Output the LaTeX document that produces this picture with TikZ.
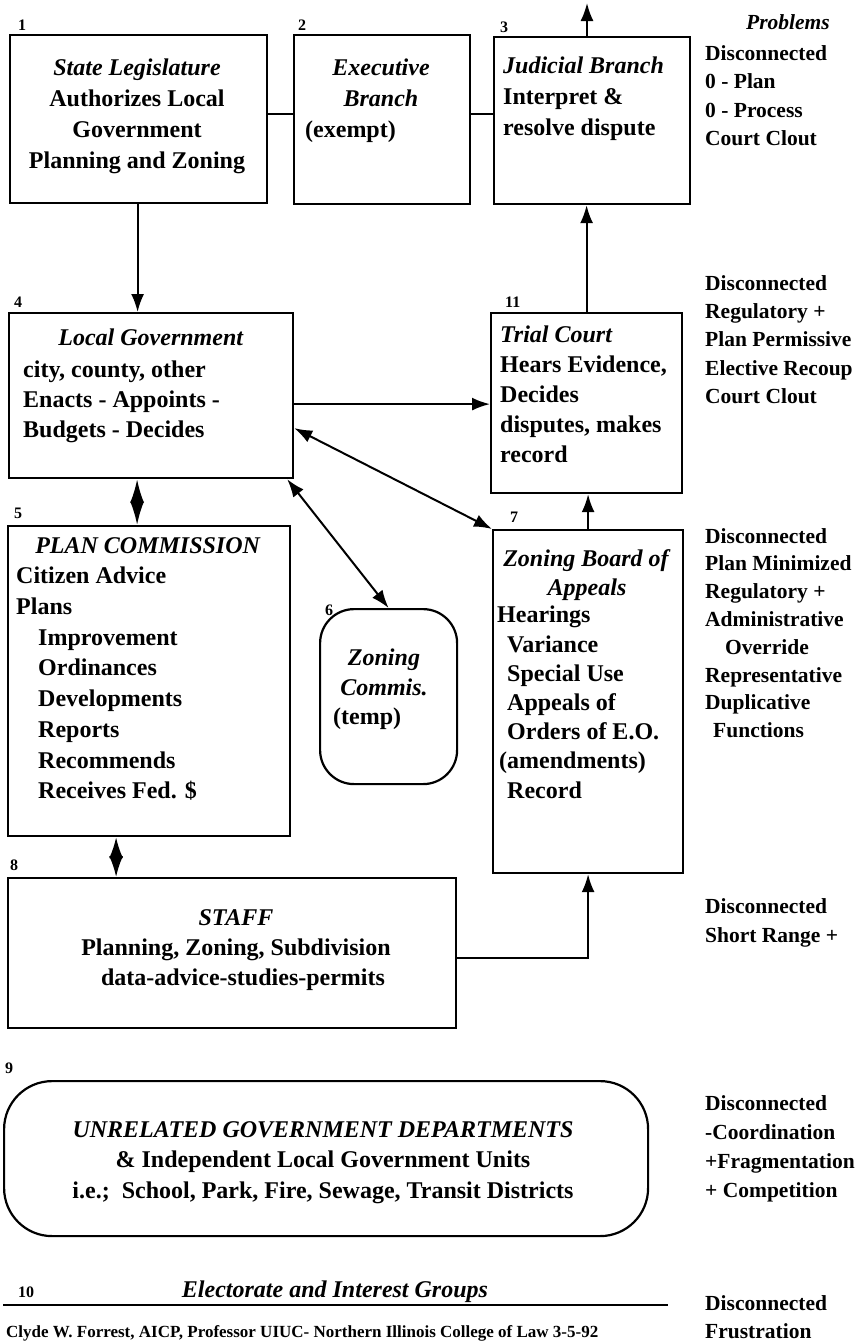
\documentclass[tikz,border=0pt]{standalone}
\usepackage{fontspec}
\setmainfont{Liberation Serif}
\usetikzlibrary{arrows.meta}
\begin{document}
\begin{tikzpicture}[x=1pt,y=-1pt,
  box/.style={draw, line width=2.2pt, inner sep=0, anchor=north west},
  txt/.style={inner sep=0, font=\fontsize{24}{#1}\selectfont\bfseries, align=left, anchor=north west},
  txt/.default=30.5,
  rtxt/.style={inner sep=0, font=\fontsize{21.5}{#1}\selectfont\bfseries, align=left, anchor=north west},
  rtxt/.default=28.3,
  lab/.style={inner sep=0, font=\fontsize{16}{18}\selectfont\bfseries, anchor=base west},
  conn/.style={line width=2pt},
  arr/.style={line width=2pt, -{Latex[length=18pt,width=13pt]}},
  dbl/.style={line width=2pt, {Latex[length=18pt,width=13pt]}-{Latex[length=18pt,width=13pt]}},
  dia/.style={line width=2pt, {Latex[length=#1,width=14pt]}-{Latex[length=#1,width=14pt]}}
]
\useasboundingbox (0,0) rectangle (856,1342);

% boxes
\node[box, minimum width=257pt, minimum height=168pt] (b1) at (9,34) {};
\node[box, minimum width=176pt, minimum height=169pt] (b2) at (293,34) {};
\node[box, minimum width=196pt, minimum height=167pt] (b3) at (493,36) {};
\node[box, minimum width=284pt, minimum height=165pt] (b4) at (8,312) {};
\node[box, minimum width=191pt, minimum height=180pt] (b11) at (490,312) {};
\node[box, minimum width=282pt, minimum height=310pt] (b5) at (7,525) {};
\node[box, rounded corners=34pt, minimum width=137pt, minimum height=175pt] (b6) at (319,608) {};
\node[box, minimum width=190pt, minimum height=343pt] (b7) at (492,529) {};
\node[box, minimum width=448pt, minimum height=150pt] (b8) at (7,877) {};
\node[box, rounded corners=48pt, minimum width=644pt, minimum height=155pt] (b9) at (3,1080) {};

% labels
\node[lab] (l1) at (18,30) {1};
\node[lab] (l2) at (298,30) {2};
\node[lab] (l3) at (500,32) {3};
\node[lab] (l4) at (14,307) {4};
\node[lab] (l5) at (14,518) {5};
\node[lab] (l6) at (325,615) {6};
\node[lab] (l7) at (510,522) {7};
\node[lab] (l8) at (10,870) {8};
\node[lab] (l9) at (5,1073) {9};
\node[lab] (l10) at (18,1297) {10};
\node[lab] (l11) at (505,307) {11};

% box texts
\node[txt=30.8, anchor=north, align=center] (t1) at (137,59) {\textit{State Legislature}\\Authorizes Local\\Government\\Planning and Zoning};
\node[txt=30.8, anchor=north, align=center] (t2a) at (381,59) {\textit{Executive}\\\textit{Branch}};
\node[txt] (t2b) at (305,121) {(exempt)};
\node[txt=31] (t3) at (503,57) {\textit{Judicial Branch}\\Interpret \&\\resolve dispute};
\node[txt, anchor=north] (t4a) at (151,329) {\textit{Local Government}};
\node[txt=30] (t4b) at (23,361) {city, county, other\\Enacts - Appoints -\\Budgets - Decides};
\node[txt=30] (t11) at (500,326) {\textit{Trial Court}\\Hears Evidence,\\Decides\\disputes, makes\\record};
\node[txt, anchor=north] (t5a) at (148,537) {\textit{PLAN COMMISSION}};
\node[txt=30.7] (t5b) at (16,567) {Citizen Advice\\Plans\\\hspace*{22pt}Improvement\\\hspace*{22pt}Ordinances\\\hspace*{22pt}Developments\\\hspace*{22pt}Reports\\\hspace*{22pt}Recommends\\\hspace*{22pt}Receives Fed. \$};
\node[txt=30, anchor=north, align=center] (t6a) at (384,649) {\textit{Zoning}\\\textit{Commis.}};
\node[txt] (t6b) at (333,708) {(temp)};
\node[txt=29, anchor=north, align=center] (t7a) at (587,549) {\textit{Zoning Board of}\\\textit{Appeals}};
\node[txt=29.2] (t7b) at (497,606) {Hearings\\\hspace*{10pt}Variance\\\hspace*{10pt}Special Use\\\hspace*{10pt}Appeals of\\\hspace*{10pt}Orders of E.O.\\\hspace*{2pt}(amendments)\\\hspace*{10pt}Record};
\node[txt=30, anchor=north, align=center] (t8) at (236,909) {\textit{STAFF}\\Planning, Zoning, Subdivision\\\hspace*{14pt}data-advice-studies-permits};
\node[txt=30.5, anchor=north, align=center] (t9) at (323,1121) {\textit{UNRELATED GOVERNMENT DEPARTMENTS}\\\& Independent Local Government Units\\i.e.;\ \ School, Park, Fire, Sewage, Transit Districts};
\node[txt, anchor=base] (t10) at (335,1297) {\textit{Electorate and Interest Groups}};
\coordinate (u1) at (3,1305);
\coordinate (u2) at (668,1305);
\draw[conn] (u1) -- (u2);

% right column
\node[rtxt, anchor=base east] (p0) at (830,29) {\textit{Problems}};
\node[rtxt=28.5] (p1) at (705,45) {Disconnected\\0 - Plan\\0 - Process\\Court Clout};
\node[rtxt=28.3] (p2) at (705,275) {Disconnected\\Regulatory +\\Plan Permissive\\Elective Recoup\\Court Clout};
\node[rtxt=27.8] (p3) at (705,528) {Disconnected\\Plan Minimized\\Regulatory +\\Administrative\\\hspace*{20pt}Override\\Representative\\Duplicative\\\hspace*{8pt}Functions};
\node[rtxt=29] (p4) at (705,898) {Disconnected\\Short Range +};
\node[rtxt=29] (p5) at (705,1095) {Disconnected\\-Coordination\\+Fragmentation\\+ Competition};
\node[rtxt=28] (p6) at (705,1295) {Disconnected\\Frustration};

% footer
\node[inner sep=0, anchor=base west, font=\fontsize{17}{19}\selectfont\bfseries] (ft) at (6,1337) {Clyde W. Forrest, AICP, Professor UIUC- Northern Illinois College of Law 3-5-92};

% connectors
\draw[conn] ([yshift=5pt]b1.east) -- ([yshift=5pt]b1.east -| b2.west);
\draw[conn] ([yshift=6pt]b2.east) -- ([yshift=6pt]b2.east -| b3.west);
\coordinate (top) at (587,3);
\draw[arr] (b3.north -| top) -- (top);
\draw[arr] ([xshift=-1pt]b1.south) -- ([xshift=-1pt]b1.south |- b4.north);
\draw[arr] (b11.north) -- (b11.north |- b3.south);
\draw[arr] ([yshift=-8.5pt]b4.east) -- ([yshift=-8.5pt]b4.east -| b11.west);
\draw[dbl] ([yshift=-32.5pt]b4.east) -- (b7.north west);
\draw[dbl] ([xshift=-7pt]b4.south east) -- (b6.north);
\draw[dia=23.5pt] ([xshift=-14pt]b4.south) -- ([xshift=-14pt]b4.south |- b5.north);
\draw[arr] (b7.north) -- (b7.north |- b11.south);
\draw[dia=21pt] ([xshift=-33pt]b5.south) -- ([xshift=-33pt]b5.south |- b8.north);
\draw[arr] ([yshift=-5pt]b8.east) -| (b7.south);
\end{tikzpicture}
\end{document}
